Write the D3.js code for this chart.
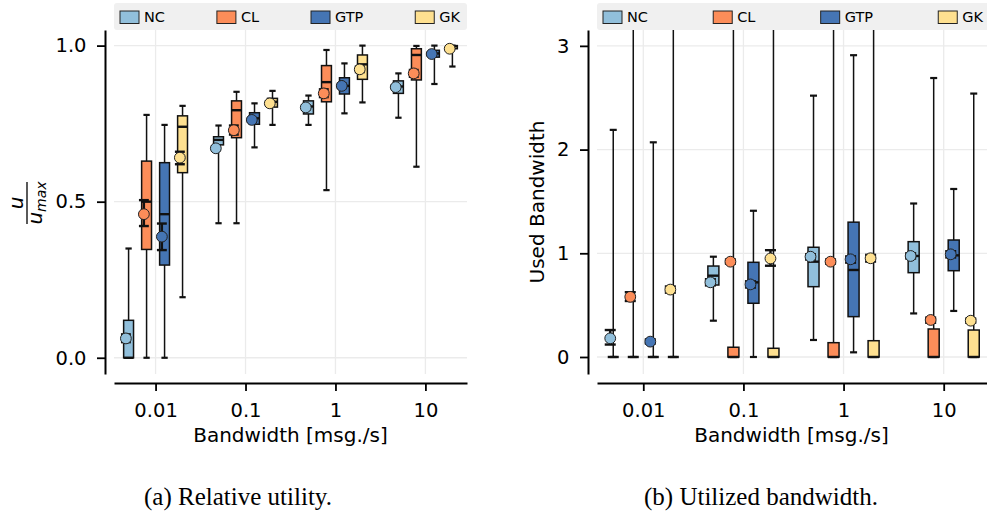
<!DOCTYPE html>
<html>
<head>
<meta charset="utf-8">
<script src="https://cdn.jsdelivr.net/npm/d3@7"></script>
<style>
  body { margin: 0; background: #fff; }
  svg { display: block; }
</style>
</head>
<body>
<svg id="chart" width="987" height="514"></svg>
<script>
// ---- data ----
var bandwidths = [0.01, 0.1, 1, 10];
var xTickLabels = ['0.01', '0.1', '1', '10'];
var seriesNames = ['NC', 'CL', 'GTP', 'GK'];
var seriesColors = ['#91bfdb', '#fc8d59', '#4575b4', '#fee090'];

// box stats per bandwidth: [whiskerLow, q1, median, q3, whiskerHigh]
// (a) relative utility
var utilNC  = [[0, 0, 0, 0.12, 0.35], [0.431, 0.682, 0.698, 0.708, 0.744], [0.746, 0.781, 0.805, 0.823, 0.84], [0.769, 0.847, 0.869, 0.887, 0.911]];
var utilCL  = [[0, 0.347, 0.5, 0.63, 0.778], [0.431, 0.705, 0.793, 0.823, 0.852], [0.537, 0.82, 0.883, 0.936, 0.986], [0.612, 0.89, 0.97, 0.99, 0.999]];
var utilGTP = [[0, 0.297, 0.46, 0.625, 0.746], [0.674, 0.748, 0.767, 0.785, 0.815], [0.783, 0.845, 0.871, 0.897, 0.943], [0.877, 0.963, 0.975, 0.985, 1.0]];
var utilGK  = [[0.194, 0.593, 0.74, 0.775, 0.807], [0.746, 0.803, 0.82, 0.831, 0.855], [0.818, 0.892, 0.94, 0.97, 1.0], [0.933, 0.99, 0.998, 1.0, 1.0]];
// mean with confidence interval: [mean, ciLow, ciHigh]
var utilNCMean  = [[0.062, 0.05, 0.075], [0.671, 0.665, 0.678], [0.802, 0.796, 0.808], [0.867, 0.861, 0.873]];
var utilCLMean  = [[0.46, 0.422, 0.505], [0.729, 0.715, 0.744], [0.847, 0.835, 0.86], [0.911, 0.9, 0.922]];
var utilGTPMean = [[0.388, 0.345, 0.43], [0.762, 0.756, 0.768], [0.871, 0.864, 0.878], [0.973, 0.968, 0.978]];
var utilGKMean  = [[0.641, 0.62, 0.66], [0.815, 0.809, 0.821], [0.924, 0.915, 0.933], [0.99, 0.986, 0.994]];

// (b) used bandwidth
var bwNC  = [[0, 0, 0, 0, 2.19], [0.35, 0.694, 0.784, 0.877, 0.967], [0.164, 0.678, 0.919, 1.058, 2.52], [0.42, 0.813, 0.974, 1.112, 1.48]];
var bwCL  = [[0, 0, 0, 0, 4.5], [0, 0, 0, 0.094, 4.5], [0, 0, 0, 0.138, 4.5], [0, 0, 0, 0.27, 2.69]];
var bwGTP = [[0, 0, 0, 0, 2.07], [0, 0.518, 0.72, 0.913, 1.41], [0.045, 0.389, 0.839, 1.3, 2.91], [0.444, 0.832, 0.98, 1.128, 1.62]];
var bwGK  = [[0, 0, 0, 0, 4.5], [0, 0, 0, 0.084, 4.5], [0, 0, 0, 0.157, 4.5], [0, 0, 0, 0.26, 2.54]];
var bwNCMean  = [[0.18, 0.12, 0.26], [0.72, 0.69, 0.75], [0.967, 0.94, 0.99], [0.974, 0.95, 1.0]];
var bwCLMean  = [[0.58, 0.54, 0.625], [0.919, 0.9, 0.94], [0.919, 0.9, 0.94], [0.357, 0.33, 0.38]];
var bwGTPMean = [[0.148, 0.13, 0.17], [0.70, 0.67, 0.73], [0.942, 0.91, 0.97], [0.99, 0.96, 1.02]];
var bwGKMean  = [[0.65, 0.62, 0.68], [0.95, 0.88, 1.03], [0.952, 0.92, 0.985], [0.35, 0.33, 0.37]];

var utilTicks = [0, 0.5, 1.0];
var bwTicks = [0, 1, 2, 3];

// ---- layout ----
var plotTop = 30, plotBottom = 374;
var xDomain = [0.00345, 29];
var seriesOffset = [-0.3, -0.1, 0.1, 0.3];   // in decades
var boxHalf = 0.055, capHalf = 0.035, ciHalf = 0.055, meanShift = -0.03;

var svg = d3.select('#chart');

var panels = [
  {
    left: 114, width: 353, axisGap: 9,
    yDomain: [-0.052, 1.05], yTicks: utilTicks, yFormat: d3.format('.1f'),
    boxes: [utilNC, utilCL, utilGTP, utilGK],
    means: [utilNCMean, utilCLMean, utilGTPMean, utilGKMean],
    caption: '(a) Relative utility.', captionX: 238, id: 'a'
  },
  {
    left: 597, width: 393, axisGap: 9,
    yDomain: [-0.164, 3.153], yTicks: bwTicks, yFormat: d3.format('d'),
    boxes: [bwNC, bwCL, bwGTP, bwGK],
    means: [bwNCMean, bwCLMean, bwGTPMean, bwGKMean],
    caption: '(b) Utilized bandwidth.', captionX: 761, id: 'b'
  }
];

panels.forEach(function (p) {
  var x = d3.scaleLog().domain(xDomain).range([p.left, p.left + p.width]);
  var y = d3.scaleLinear().domain(p.yDomain).range([plotBottom, plotTop]);
  var at = function (v, dec) { return x(v * Math.pow(10, dec)); };
  var g = svg.append('g');

  g.append('clipPath').attr('id', 'clip-' + p.id)
    .append('rect')
    .attr('x', p.left).attr('y', plotTop)
    .attr('width', p.width).attr('height', plotBottom - plotTop);

  // grid
  g.selectAll('line.hgrid').data(p.yTicks).enter().append('line')
    .attr('x1', p.left).attr('x2', p.left + p.width)
    .attr('y1', function (d) { return y(d); }).attr('y2', function (d) { return y(d); })
    .attr('stroke', '#ebebeb').attr('stroke-width', 1.3);
  g.selectAll('line.vgrid').data(bandwidths).enter().append('line')
    .attr('x1', function (d) { return x(d); }).attr('x2', function (d) { return x(d); })
    .attr('y1', plotTop).attr('y2', plotBottom)
    .attr('stroke', '#ebebeb').attr('stroke-width', 1.3);

  // axes
  var yAxis = d3.axisLeft(y).tickValues(p.yTicks).tickFormat(p.yFormat)
    .tickSize(8).tickSizeOuter(0).tickPadding(10.5);
  var ya = g.append('g').attr('transform', 'translate(' + (p.left - p.axisGap) + ',0)').call(yAxis);
  var xAxis = d3.axisBottom(x).tickValues(bandwidths)
    .tickFormat(function (d, i) { return xTickLabels[i]; })
    .tickSize(8).tickSizeOuter(0).tickPadding(12);
  var xa = g.append('g').attr('transform', 'translate(0,' + (plotBottom + p.axisGap) + ')').call(xAxis);
  [ya, xa].forEach(function (a) {
    a.select('.domain').attr('stroke', '#000').attr('stroke-width', 2);
    a.selectAll('.tick line').attr('stroke', '#000').attr('stroke-width', 1.8);
    a.selectAll('.tick text').attr('fill', '#000')
      .style('font-family', 'DejaVu Sans').style('font-size', '19.5px');
  });

  g.append('text')
    .attr('x', p.left + p.width / 2 - (p.id === 'b' ? 2 : 0)).attr('y', 441.5)
    .attr('text-anchor', 'middle')
    .style('font-family', 'DejaVu Sans').style('font-size', '20px')
    .text('Bandwidth [msg./s]');

  // boxes
  var plot = g.append('g').attr('clip-path', 'url(#clip-' + p.id + ')');
  p.boxes.forEach(function (rows, s) {
    var off = seriesOffset[s];
    var col = seriesColors[s];
    rows.forEach(function (st, i) {
      var c = bandwidths[i];
      var cx = at(c, off);
      var bx0 = at(c, off - boxHalf), bx1 = at(c, off + boxHalf);
      var wx0 = at(c, off - capHalf), wx1 = at(c, off + capHalf);
      var b = plot.append('g');
      // whiskers
      b.append('line').attr('x1', cx).attr('x2', cx).attr('y1', y(st[3])).attr('y2', y(st[4]))
        .attr('stroke', '#111').attr('stroke-width', 1.5);
      b.append('line').attr('x1', cx).attr('x2', cx).attr('y1', y(st[1])).attr('y2', y(st[0]))
        .attr('stroke', '#111').attr('stroke-width', 1.5);
      [st[0], st[4]].forEach(function (v) {
        b.append('line').attr('x1', wx0).attr('x2', wx1).attr('y1', y(v)).attr('y2', y(v))
          .attr('stroke', '#111').attr('stroke-width', 2.2);
      });
      // box
      b.append('rect').attr('x', bx0).attr('width', bx1 - bx0)
        .attr('y', y(st[3])).attr('height', Math.max(0, y(st[1]) - y(st[3])))
        .attr('fill', col).attr('stroke', '#111').attr('stroke-width', 1.5);
      b.append('line').attr('x1', bx0).attr('x2', bx1).attr('y1', y(st[2])).attr('y2', y(st[2]))
        .attr('stroke', '#111').attr('stroke-width', 2.4);
      // mean + ci
      var m = p.means[s][i];
      var mx = at(c, off + meanShift);
      var cx0 = at(c, off + meanShift - ciHalf), cx1 = at(c, off + meanShift + ciHalf);
      b.append('line').attr('x1', mx).attr('x2', mx).attr('y1', y(m[1])).attr('y2', y(m[2]))
        .attr('stroke', '#111').attr('stroke-width', 2.4);
      [m[1], m[2]].forEach(function (v) {
        b.append('line').attr('x1', cx0).attr('x2', cx1).attr('y1', y(v)).attr('y2', y(v))
          .attr('stroke', '#111').attr('stroke-width', 2.4);
      });
      b.append('circle').attr('cx', mx).attr('cy', y(m[0])).attr('r', 5.4)
        .attr('fill', col).attr('stroke', '#222').attr('stroke-width', 1);
    });
  });

  // legend (expanded over the axes width)
  var lg = g.append('g').attr('transform', 'translate(' + p.left + ',3)');
  lg.append('rect').attr('width', p.width).attr('height', 27).attr('rx', 3)
    .attr('fill', '#f0f0f0');
  var items = lg.selectAll('g.item').data(seriesNames).enter().append('g');
  items.append('rect').attr('x', 0).attr('y', 8).attr('width', 19).attr('height', 12.5)
    .attr('fill', function (d, i) { return seriesColors[i]; })
    .attr('stroke', '#222').attr('stroke-width', 1);
  items.append('text').attr('x', 24).attr('y', 19.2)
    .style('font-family', 'DejaVu Sans').style('font-size', '14.5px')
    .text(function (d) { return d; });
  var widths = [];
  items.each(function () {
    widths.push(24 + d3.select(this).select('text').node().getComputedTextLength());
  });
  var sep = (p.width - 13 - d3.sum(widths)) / (widths.length - 1);
  var pos = 6;
  items.attr('transform', function (d, i) {
    var t = 'translate(' + pos + ',0)';
    pos += widths[i] + sep;
    return t;
  });

  // caption
  svg.append('text').attr('x', p.captionX).attr('y', 505)
    .attr('text-anchor', 'middle')
    .style('font-family', 'Liberation Serif').style('font-size', '25px')
    .text(p.caption);
});

// y labels
var frac = svg.append('g').attr('transform', 'translate(27,203) rotate(-90)');
frac.append('line').attr('x1', -21).attr('x2', 21).attr('y1', 0).attr('y2', 0)
  .attr('stroke', '#000').attr('stroke-width', 1.3);
frac.append('text').attr('x', 0).attr('y', -4).attr('text-anchor', 'middle')
  .style('font-family', 'DejaVu Sans').style('font-style', 'italic').style('font-size', '20px')
  .text('u');
var den = frac.append('text').attr('x', 0).attr('y', 15).attr('text-anchor', 'middle')
  .style('font-family', 'DejaVu Sans').style('font-style', 'italic').style('font-size', '20px');
den.append('tspan').text('u');
den.append('tspan').attr('dy', 4).style('font-size', '14px').text('max');

svg.append('text')
  .attr('transform', 'translate(544,202) rotate(-90)')
  .attr('text-anchor', 'middle')
  .style('font-family', 'DejaVu Sans').style('font-size', '20px')
  .text('Used Bandwidth');
</script>
</body>
</html>
